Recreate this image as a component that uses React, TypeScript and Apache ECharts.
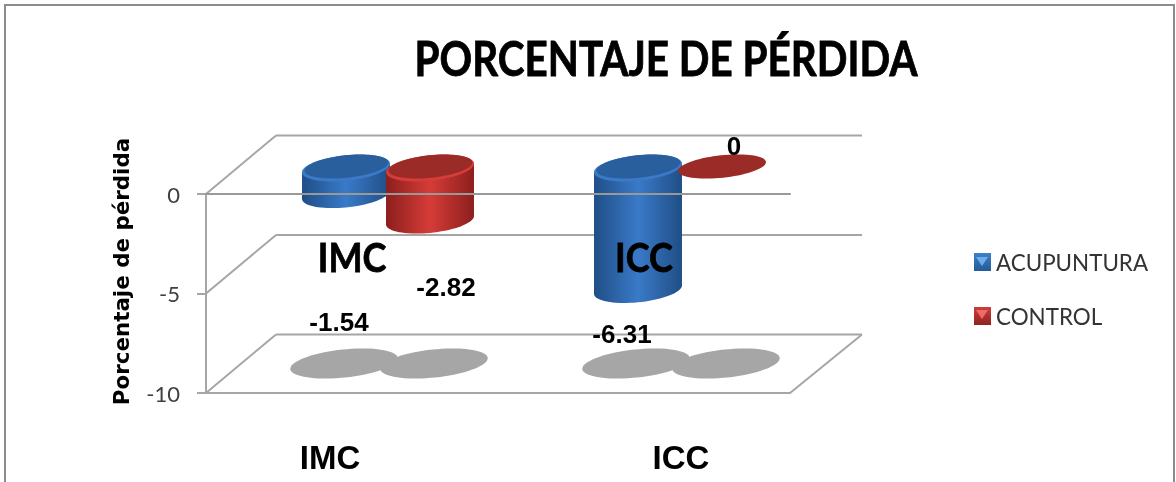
import React, { useEffect, useRef } from "react";
import * as echarts from "echarts";

const categories = ["IMC", "ICC"];
const acupuntura = [-1.54, -6.31];
const control = [-2.82, 0];
const yTicks = [-10, -5, 0];
const titleText = "PORCENTAJE DE PÉRDIDA";
const yAxisName = "Porcentaje de pérdida";

const LINE = "#a6a6a6";
const DEPTH_X = 36;
const DEPTH_Y = -26;
const BOTTOM_INSET = 4;
const A = 44.2;
const B = 12.7;
const TILT = (-6 * Math.PI) / 180;
const ELLIPSE_STEPS = 72;

function ellipsePoint(cx: number, cy: number, a: number, b: number, t: number) {
  return [
    cx + a * Math.cos(t) * Math.cos(TILT) - b * Math.sin(t) * Math.sin(TILT),
    cy + a * Math.cos(t) * Math.sin(TILT) + b * Math.sin(t) * Math.cos(TILT),
  ];
}

function ellipsePoints(cx: number, cy: number, a: number, b: number) {
  const pts: number[][] = [];
  for (let i = 0; i < ELLIPSE_STEPS; i++) {
    pts.push(ellipsePoint(cx, cy, a, b, (i / ELLIPSE_STEPS) * 2 * Math.PI));
  }
  return pts;
}

function bodyPoints(cx: number, y0: number, y1: number) {
  const t0 = Math.atan(-(B / A) * Math.tan(TILT));
  const pts: number[][] = [];
  for (let i = 0; i <= ELLIPSE_STEPS / 2; i++) {
    pts.push(ellipsePoint(cx, y1, A, B, t0 + (i / (ELLIPSE_STEPS / 2)) * Math.PI));
  }
  pts.push(ellipsePoint(cx, y0, A, B, t0 + Math.PI));
  pts.push(ellipsePoint(cx, y0, A, B, t0));
  return pts;
}

const cylinderRender =
  (side: number, edge: string, mid: string, top: string, rim: string, shadowDx: number, labelOffsets: number[][]) =>
  (_p: any, api: any) => {
    const idx = api.value(0);
    const val = api.value(1);
    const [bx] = api.coord([idx, 0]);
    const y0 = api.coord([idx, 0])[1] + DEPTH_Y;
    const yVal = api.coord([idx, val])[1];
    const y1 = yVal + DEPTH_Y - BOTTOM_INSET;
    const floorY = api.coord([idx, yTicks[0]])[1];
    const cx = bx + side + DEPTH_X;
    const children: any[] = [
      {
        type: "polygon",
        shape: { points: ellipsePoints(cx + shadowDx, floorY - 29.5, 54, 14) },
        style: { fill: "#a6a6a6" },
        z2: 1,
      },
    ];
    if (val !== 0) {
      children.push(
        {
          type: "polygon",
          shape: { points: bodyPoints(cx, y0, y1) },
          style: {
            fill: new echarts.graphic.LinearGradient(0, 0, 1, 0, [
              { offset: 0, color: edge },
              { offset: 0.5, color: mid },
              { offset: 1, color: edge },
            ]),
          },
          z2: 2,
        },
        {
          type: "polygon",
          shape: { points: ellipsePoints(cx, y0, A, B) },
          style: { fill: mid },
          z2: 3,
        },
        {
          type: "polygon",
          shape: { points: ellipsePoints(cx + 0.5, y0 - 1.5, A - 2, B - 1.5) },
          style: { fill: top },
          z2: 4,
        },
      );
    } else {
      children.push({
        type: "polygon",
        shape: { points: ellipsePoints(cx, y0 - 1.5, A, B - 1.5) },
        style: { fill: rim },
        z2: 3,
      });
    }
    const off = labelOffsets[idx];
    children.push({
      type: "text",
      style: {
        text: String(val),
        x: cx + off[0],
        y: yVal + off[1],
        align: "center",
        verticalAlign: "middle",
        fill: "#000",
        font: 'bold 26px "Liberation Sans"',
      },
      z2: 9,
    });
    return { type: "group", children };
  };

const wallRender = (params: any, api: any) => {
  const cs = params.coordSys;
  const left = cs.x;
  const right = cs.x + cs.width;
  const sx = 70;
  const sy = -58.5;
  const backRight = right + 72;
  const style = { stroke: LINE, lineWidth: 2, fill: "none" };
  const children: any[] = [];
  yTicks.forEach((t) => {
    const y = api.coord([0, t])[1];
    children.push(
      { type: "line", shape: { x1: left, y1: y, x2: left + sx, y2: y + sy }, style },
      { type: "line", shape: { x1: left + sx, y1: y + sy, x2: backRight, y2: y + sy }, style },
    );
  });
  const yb = api.coord([0, yTicks[0]])[1];
  children.push({ type: "line", shape: { x1: right, y1: yb, x2: backRight, y2: yb + sy }, style });
  return { type: "group", children };
};

export default function App() {
  const ref = useRef<HTMLDivElement>(null);
  useEffect(() => {
    document.body.style.margin = "0";
    const chart = echarts.init(ref.current!, null, { renderer: "svg" });
    const axisLineStyle = { color: LINE, width: 2 };
    const innerLabel = (text: string, x: number) => ({
      type: "text",
      x,
      y: 256,
      scaleX: 0.88,
      z: 20,
      style: {
        text,
        align: "center",
        verticalAlign: "middle",
        fill: "#000",
        stroke: "#000",
        lineWidth: 0.8,
        font: 'bold 41px "Lato"',
      },
    });
    chart.setOption({
      animation: false,
      backgroundColor: "#fff",
      legend: {
        orient: "vertical",
        left: 969,
        top: 246,
        itemWidth: 17,
        itemHeight: 18,
        itemGap: 32,
        textStyle: { fontFamily: "Lato", fontSize: 22.4, color: "#333" },
        data: [
          {
            name: "ACUPUNTURA",
            icon: "rect",
            itemStyle: {
              color: new echarts.graphic.LinearGradient(0, 0, 0, 1, [
                { offset: 0, color: "#3f7fc8" },
                { offset: 1, color: "#245a99" },
              ]),
            },
          },
          {
            name: "CONTROL",
            icon: "rect",
            itemStyle: {
              color: new echarts.graphic.LinearGradient(0, 0, 0, 1, [
                { offset: 0, color: "#cc3f3a" },
                { offset: 1, color: "#8f2320" },
              ]),
            },
          },
        ],
      },
      grid: { left: 206, right: 386, top: 194, bottom: 89 },
      xAxis: [
        {
          type: "category",
          data: [
            { value: categories[0], textStyle: { padding: [0, 44, 0, 0] } },
            { value: categories[1], textStyle: { padding: [0, 0, 0, 74] } },
          ],
          position: "bottom",
          axisLine: { onZero: false, lineStyle: axisLineStyle },
          axisTick: { show: false },
          axisLabel: {
            margin: 48,
            fontFamily: "Liberation Sans",
            fontWeight: "bold",
            fontSize: 33,
            color: "#000",
          },
        },
        {
          type: "category",
          data: categories,
          position: "top",
          z: 10,
          axisLine: { onZero: false, lineStyle: { color: "#999", width: 2 } },
          axisTick: { show: false },
          axisLabel: { show: false },
        },
      ],
      yAxis: {
        type: "value",
        min: -10,
        max: 0,
        interval: 5,
        name: yAxisName,
        nameLocation: "middle",
        nameGap: 74,
        nameTextStyle: {
          fontFamily: "DejaVu Sans",
          fontWeight: "bold",
          fontSize: 21.4,
          color: "#000",
          padding: [0, 0, 0, 44],
        },
        axisLine: { show: true, lineStyle: axisLineStyle },
        axisTick: { show: true, length: 9, lineStyle: axisLineStyle },
        splitLine: { show: false },
        axisLabel: { margin: 26, fontFamily: "Lato", fontSize: 22, color: "#404040" },
      },
      graphic: [
        {
          type: "rect",
          shape: { x: 5, y: 5, width: 1169, height: 520 },
          style: { fill: "none", stroke: "#8c8c8c", lineWidth: 2 },
          silent: true,
        },
        {
          type: "text",
          x: 666,
          y: 58,
          scaleX: 0.86,
          z: 20,
          style: {
            text: titleText,
            align: "center",
            verticalAlign: "middle",
            fill: "#000",
            stroke: "#000",
            lineWidth: 0.8,
            font: 'bold 47px "Lato"',
          },
        },
        innerLabel(categories[0], 352),
        innerLabel(categories[1], 644),
        {
          type: "polygon",
          z: 20,
          shape: { points: [[976, 257], [988, 257], [982, 266]] },
          style: { fill: "#6aaeea" },
        },
        {
          type: "polygon",
          z: 20,
          shape: { points: [[976, 310], [988, 310], [982, 319]] },
          style: { fill: "#ee6a64" },
        },
      ],
      series: [
        {
          type: "custom",
          name: "walls",
          z: 1,
          silent: true,
          renderItem: wallRender,
          data: [[0, 0]],
          encode: { x: 0, y: 1 },
        },
        {
          type: "custom",
          name: "ACUPUNTURA",
          z: 2,
          itemStyle: { color: "#2a619f" },
          renderItem: cylinderRender(-42, "#1f4e86", "#3a7ac8", "#2a5f9e", "#2a5f9e", -2, [
            [-7, 97],
            [-16, 14],
          ]),
          encode: { x: 0, y: 1 },
          data: acupuntura.map((v, i) => [i, v]),
        },
        {
          type: "custom",
          name: "CONTROL",
          z: 3,
          itemStyle: { color: "#9b2b27" },
          renderItem: cylinderRender(42, "#8b1f1d", "#d63c38", "#9b2b27", "#9b2b27", 4, [
            [16, 37],
            [12, -48],
          ]),
          encode: { x: 0, y: 1 },
          data: control.map((v, i) => [i, v]),
        },
      ],
    });
    return () => chart.dispose();
  }, []);
  return <div ref={ref} style={{ width: 1176, height: 482, filter: "blur(0.4px)" }} />;
}
